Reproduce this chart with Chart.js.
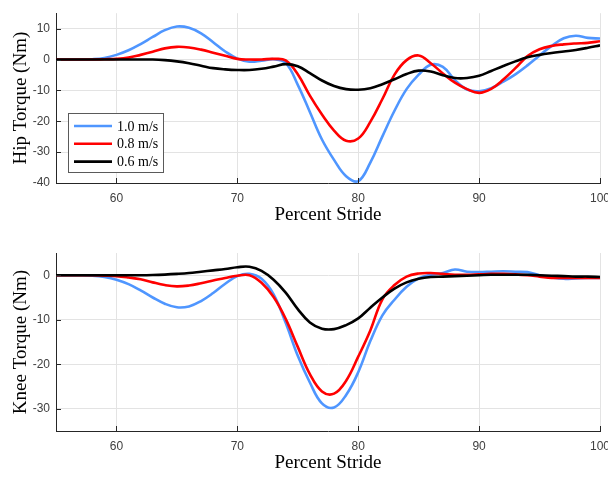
<!DOCTYPE html>
<html>
<head>
<meta charset="utf-8">
<script src="https://cdn.jsdelivr.net/npm/chart.js@4"></script>
<style>
  body { margin: 0; background: #fff; }
  canvas { display: block; }
</style>
</head>
<body>
<canvas id="hip" width="608" height="230"></canvas>
<canvas id="knee" width="608" height="248"></canvas>
<script>
const stride = [55,56,57,58,59,60,61,62,63,64,65,66,67,68,69,70,71,72,73,74,75,76,77,78,79,80,81,82,83,84,85,86,87,88,89,90,91,92,93,94,95,96,97,98,99,100];

const speeds = ['1.0 m/s', '0.8 m/s', '0.6 m/s'];
const colors = ['#4f96ff', '#ff0000', '#000000'];

const hip10 = [0,0,0,0.1,0.5,1.5,3,5,7.3,9.5,10.7,10.3,8.5,5.6,2.6,0.3,-0.7,-0.4,0.1,-1.1,-8.2,-17,-25.9,-32.5,-37.8,-39.4,-33.4,-24.9,-16.6,-9.6,-4.9,-1.7,-2.4,-6.7,-9.7,-10.3,-9.3,-7.2,-4.8,-1.9,1.3,4.4,6.9,7.7,7,6.8];
const hip08 = [0,0,0,0,0.1,0.2,0.6,1.5,2.5,3.6,4.1,3.9,3.2,2.2,1.2,0.2,0,0,0.2,-0.3,-4.8,-11.7,-17.8,-23,-26.3,-25.6,-20.2,-12.8,-4.9,-0.2,1.3,-1.2,-4.5,-7.5,-9.6,-10.8,-9.5,-6.5,-2.8,1.1,3.3,4.4,4.9,5.2,5.4,5.9];
const hip06 = [0,0,0,0,0,0,0,0,0,-0.2,-0.6,-1.2,-2,-2.8,-3.2,-3.4,-3.4,-3,-2.3,-1.5,-2.2,-4.4,-6.8,-8.6,-9.6,-9.8,-9.3,-8,-6.4,-4.7,-3.6,-3.9,-5.1,-6,-6,-5.3,-3.7,-2.1,-0.6,0.7,1.5,2.1,2.6,3.1,3.8,4.6];

const knee10 = [0,0,0,-0.1,-0.4,-1,-2,-3.4,-5,-6.4,-7.2,-7,-5.8,-4,-1.9,-0.2,0.3,-0.8,-4.3,-10.7,-18.1,-24.1,-28.8,-29.7,-26.9,-21.8,-14.8,-9,-5.5,-2.6,-0.7,0.1,0.5,1.3,0.8,0.7,0.8,0.9,0.8,0.7,0,-0.5,-0.8,-0.7,-0.6,-0.6];
const knee08 = [0,0,0,0,-0.1,-0.2,-0.5,-0.9,-1.6,-2.2,-2.5,-2.3,-1.8,-1.2,-0.6,-0.1,0,-1.7,-4.9,-9.8,-16.1,-22.2,-26.1,-26.6,-23.7,-18.3,-12.4,-5.4,-2.2,-0.3,0.4,0.5,0.3,0.1,0.1,0.2,0.3,0.3,0.2,0,-0.3,-0.6,-0.6,-0.6,-0.6,-0.6];
const knee06 = [0,0,0,0,0,0,0,0,0.05,0.15,0.3,0.5,0.8,1.1,1.4,1.8,1.9,1,-1,-3.9,-7.6,-10.6,-12,-12.1,-11.2,-9.7,-7.3,-5,-3,-1.6,-0.8,-0.4,-0.3,-0.2,-0.1,0,0.1,0.1,0.1,0.1,0,-0.1,-0.2,-0.3,-0.3,-0.4];

const xTicks = [60, 70, 80, 90, 100];
const hipTicks = [-40, -30, -20, -10, 0, 10];
const kneeTicks = [-30, -20, -10, 0];

const tickColor = '#404040';
const axisColor = '#262626';
const gridColor = '#e3e3e3';

function makeDatasets(series) {
    return series.map((vals, i) => ({
        label: speeds[i],
        data: vals.map((v, j) => ({ x: stride[j], y: v })),
        borderColor: colors[i],
        borderWidth: 2.6,
        pointRadius: 0,
        tension: 0.4,
        fill: false,
        order: 3 - i,
    }));
}

// small inward tick marks along the left and bottom axes
const innerTicks = {
    id: 'innerTicks',
    afterDraw(chart) {
        const { ctx, chartArea, scales } = chart;
        ctx.save();
        ctx.strokeStyle = axisColor;
        ctx.lineWidth = 1;
        ctx.beginPath();
        scales.x.ticks.forEach(t => {
            const px = Math.round(scales.x.getPixelForValue(t.value)) + 0.5;
            ctx.moveTo(px, chartArea.bottom);
            ctx.lineTo(px, chartArea.bottom - 5);
        });
        scales.y.ticks.forEach(t => {
            const py = Math.round(scales.y.getPixelForValue(t.value)) + 0.5;
            ctx.moveTo(chartArea.left, py);
            ctx.lineTo(chartArea.left + 5, py);
        });
        ctx.stroke();
        ctx.restore();
    }
};

// boxed legend placed inside the plot area
const boxLegend = {
    id: 'boxLegend',
    afterDraw(chart, args, opts) {
        if (!opts.show) return;
        const ctx = chart.ctx;
        const x0 = 68.5, y0 = 113.5, w = 95, h = 59;
        ctx.save();
        ctx.fillStyle = '#fff';
        ctx.fillRect(x0, y0, w, h);
        ctx.strokeStyle = '#5a5a5a';
        ctx.lineWidth = 1;
        ctx.strokeRect(x0, y0, w, h);
        ctx.font = '14px "Liberation Serif"';
        ctx.textBaseline = 'middle';
        speeds.forEach((s, i) => {
            const y = 126 + i * 17.8;
            ctx.strokeStyle = colors[i];
            ctx.lineWidth = 2.6;
            ctx.beginPath();
            ctx.moveTo(74, y);
            ctx.lineTo(112, y);
            ctx.stroke();
            ctx.fillStyle = '#000';
            ctx.fillText(s, 117, y + 1);
        });
        ctx.restore();
    }
};

function makeChart(id, series, yMin, yMax, yTicks, yTitle, topPad, showLegend) {
    return new Chart(document.getElementById(id), {
        type: 'line',
        data: { datasets: makeDatasets(series) },
        options: {
            responsive: false,
            animation: false,
            devicePixelRatio: 1,
            layout: { padding: { top: topPad, right: 8, left: 0, bottom: 0 } },
            plugins: {
                legend: { display: false },
                tooltip: { enabled: false },
                boxLegend: { show: showLegend },
            },
            scales: {
                x: {
                    type: 'linear',
                    min: 55,
                    max: 100,
                    afterBuildTicks: s => { s.ticks = xTicks.map(v => ({ value: v })); },
                    // let the "100" label run off the edge instead of shrinking the plot
                    afterFit: s => { s.height = 47; s.paddingRight = 0; s.paddingLeft = 0; },
                    grid: { color: gridColor, drawTicks: false },
                    border: { color: axisColor, width: 1 },
                    ticks: { padding: 8, color: tickColor, font: { family: '"Liberation Sans"', size: 12 } },
                    title: {
                        display: true,
                        text: 'Percent Stride',
                        color: '#000',
                        font: { family: '"Liberation Serif"', size: 19 },
                        padding: { top: 0, bottom: 4 },
                    },
                },
                y: {
                    min: yMin,
                    max: yMax,
                    afterBuildTicks: s => { s.ticks = yTicks.map(v => ({ value: v })); },
                    afterFit: s => { s.width = 56; },
                    grid: { color: gridColor, drawTicks: false },
                    border: { color: axisColor, width: 1 },
                    ticks: { padding: 6, color: tickColor, font: { family: '"Liberation Sans"', size: 12 } },
                    title: {
                        display: true,
                        text: yTitle,
                        color: '#000',
                        font: { family: '"Liberation Serif"', size: 19 },
                        padding: { top: 10, bottom: 0 },
                    },
                },
            },
        },
        plugins: [innerTicks, boxLegend],
    });
}

makeChart('hip', [hip10, hip08, hip06], -40, 15, hipTicks, 'Hip Torque (Nm)', 5, true);
makeChart('knee', [knee10, knee08, knee06], -35, 5, kneeTicks, 'Knee Torque (Nm)', 23, false);
</script>
</body>
</html>
